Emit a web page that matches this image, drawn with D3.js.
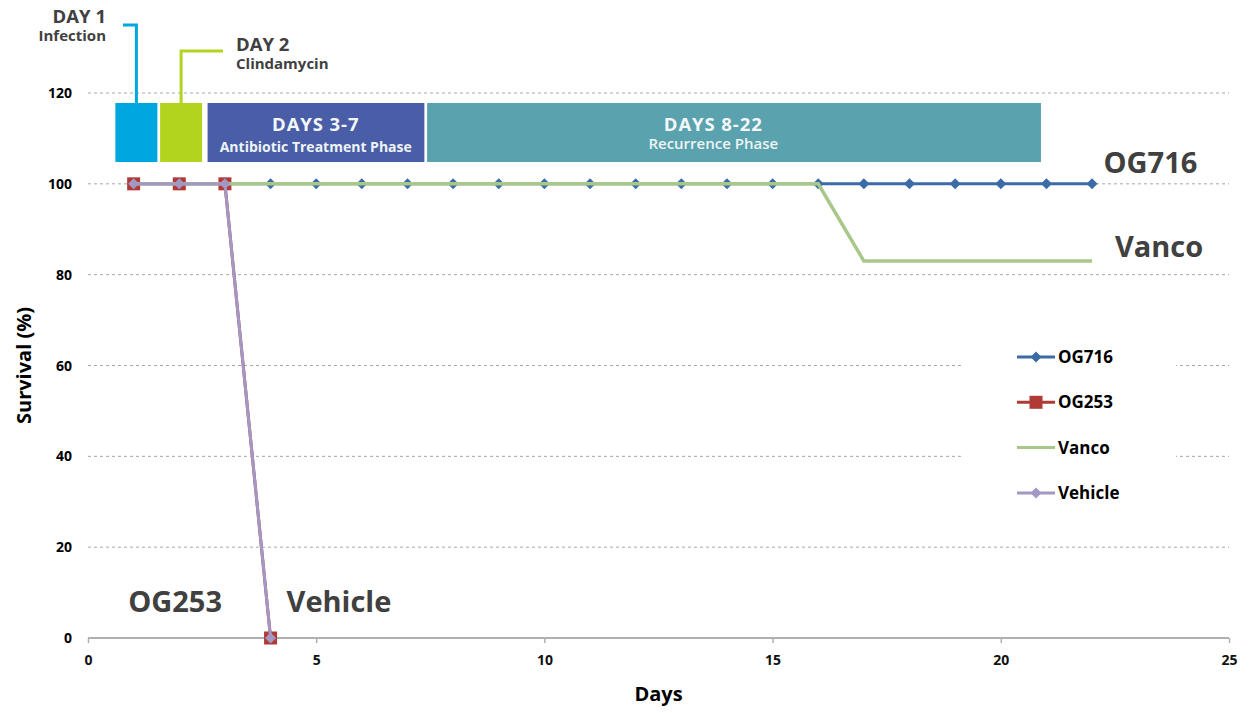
<!DOCTYPE html>
<html>
<head>
<meta charset="utf-8">
<script src="https://cdn.jsdelivr.net/npm/d3@7"></script>
<style>
	body { margin: 0; background: #fff; }
	svg { display: block; font-family: "Open Sans", "DejaVu Sans", sans-serif; }
</style>
</head>
<body>
<svg id="chart" width="1249" height="713"></svg>
<script>
// Survival data, days 1..22
const days = d3.range(1, 23)
const og716 = [100, 100, 100, 100, 100, 100, 100, 100, 100, 100, 100, 100, 100, 100, 100, 100, 100, 100, 100, 100, 100, 100]
const og253Days = [1, 2, 3, 4]
const og253 = [100, 100, 100, 0]
const vanco = [100, 100, 100, 100, 100, 100, 100, 100, 100, 100, 100, 100, 100, 100, 100, 100, 83, 83, 83, 83, 83, 83]
const vehicleDays = [1, 2, 3, 4]
const vehicle = [100, 100, 100, 0]

const xTicks = [0, 5, 10, 15, 20, 25]
const yTicks = [0, 20, 40, 60, 80, 100, 120]

// Study phases (day ranges drawn as boxes above the 100% line)
const phases = [
	{ start: 0.6, end: 1.52, title: "", sub: "", labelAt: 1 },
	{ start: 1.58, end: 2.5, title: "", sub: "", labelAt: 2 },
	{ start: 2.62, end: 7.37, title: "DAYS 3-7", sub: "Antibiotic Treatment Phase", labelAt: 4.99 },
	{ start: 7.43, end: 20.88, title: "DAYS 8-22", sub: "Recurrence Phase", labelAt: 13.7 },
]
const phaseColours = ["#00a6df", "#b2d41f", "#4a5ea7", "#5aa2ad"]

const series = [
	{ name: "OG716", x: days, y: og716, colour: "#3c6ca8", marker: "diamond", width: 3 },
	{ name: "OG253", x: og253Days, y: og253, colour: "#b03a36", marker: "square", width: 3 },
	{ name: "Vanco", x: days, y: vanco, colour: "#a8c88a", marker: null, width: 3.5 },
	{ name: "Vehicle", x: vehicleDays, y: vehicle, colour: "#a397c4", marker: "diamond", width: 3 },
]

const svg = d3.select("#chart")
const x = d3.scaleLinear().domain([0, 25]).range([88, 1229])
const y = d3.scaleLinear().domain([0, 120]).range([638, 93])

// Gridlines
svg.append("g")
	.selectAll("line")
	.data(yTicks.filter(d => d > 0))
	.join("line")
	.attr("x1", x(0))
	.attr("x2", x(25))
	.attr("y1", d => y(d))
	.attr("y2", d => y(d))
	.style("stroke", "#a8a8a8")
	.style("stroke-width", 1)
	.style("stroke-dasharray", "3,3")

// Y tick labels
svg.append("g")
	.selectAll("text")
	.data(yTicks)
	.join("text")
	.attr("x", 72)
	.attr("y", d => y(d) + 5)
	.attr("text-anchor", "end")
	.style("font-size", "14px")
	.style("font-weight", "bold")
	.text(d => d)

// X axis
let xAxis = svg.append("g")
	.attr("transform", `translate(0, ${y(0)})`)
	.call(d3.axisBottom(x).tickValues(xTicks).tickSize(5).tickPadding(12))
xAxis.select(".domain").style("stroke", "#b0b0b0").style("stroke-width", 2).attr("d", `M${x(0)},0H${x(25)}`)
xAxis.selectAll(".tick line").style("stroke", "#b0b0b0").style("stroke-width", 1.5)
xAxis.selectAll(".tick text")
	.style("font-size", "14px")
	.style("font-weight", "bold")
	.style("font-family", "'Open Sans', sans-serif")
	.attr("fill", "#111")

// Axis titles
svg.append("text")
	.attr("x", x(12.5))
	.attr("y", 701)
	.attr("text-anchor", "middle")
	.style("font-size", "20px")
	.style("font-weight", "bold")
	.text("Days")
svg.append("text")
	.attr("transform", `translate(31, ${y(60)}) rotate(-90)`)
	.attr("text-anchor", "middle")
	.style("font-size", "20px")
	.style("font-weight", "bold")
	.text("Survival (%)")

// Phase boxes
let phaseG = svg.append("g")
	.selectAll("g")
	.data(phases)
	.join("g")
phaseG.append("rect")
	.attr("x", d => x(d.start))
	.attr("width", d => x(d.end) - x(d.start))
	.attr("y", y(117.8))
	.attr("height", y(104.8) - y(117.8))
	.attr("fill", (d, i) => phaseColours[i])

// Title and subtitle as one text element with two lines
let phaseText = phaseG.filter(d => d.title)
	.append("text")
	.attr("text-anchor", "middle")
	.attr("fill", "#f4f7fb")
	.style("font-weight", "bold")
phaseText.append("tspan")
	.attr("x", d => x(d.labelAt))
	.attr("y", y(117.8) + 28)
	.style("font-size", "18.5px")
	.style("letter-spacing", "0.9px")
	.text(d => d.title)
phaseText.append("tspan")
	.attr("x", d => x(d.labelAt))
	.attr("y", d => y(117.8) + (d.labelAt < 7 ? 49 : 46))
	.attr("fill", "#eef4f6")
	.style("font-size", d => d.labelAt < 7 ? "14px" : "15px")
	.style("font-weight", d => d.labelAt < 7 ? "bold" : "600")
	.text(d => d.sub)

// Callouts for day 1 and day 2
const callouts = [
	{ top: 25, end: 123, title: "DAY 1", sub: "Infection", tx: 106, anchor: "end", ty: 23 },
	{ top: 51, end: 223, title: "DAY 2", sub: "Clindamycin", tx: 236, anchor: "start", ty: 51 },
]
callouts.forEach((c, i) => {
	let cx = (x(phases[i].start) + x(phases[i].end)) / 2
	svg.append("path")
		.attr("d", `M${cx},${y(117.8)}V${c.top}H${c.end}`)
		.attr("fill", "none")
		.style("stroke", phaseColours[i])
		.style("stroke-width", 3)
	let label = svg.append("text")
		.attr("text-anchor", c.anchor)
		.attr("fill", "#404040")
		.style("font-weight", "bold")
	label.append("tspan")
		.attr("x", c.tx)
		.attr("y", c.ty)
		.style("font-size", "18.5px")
		.text(c.title)
	label.append("tspan")
		.attr("x", c.tx)
		.attr("y", c.ty + 17.5)
		.style("font-size", "15px")
		.text(c.sub)
})

// Series lines
const line = d3.line()
	.x(d => x(d[0]))
	.y(d => y(d[1]))

const pointsOf = s => s.x.map((d, i) => [d, s.y[i]])

const diamond = r => `M0,${-r}L${r},0L0,${r}L${-r},0Z`

function drawMarkers(g, s, pts) {
	if (s.marker === "diamond") {
		g.selectAll("path")
			.data(pts)
			.join("path")
			.attr("d", diamond(5.5))
			.attr("transform", d => `translate(${x(d[0])}, ${y(d[1])})`)
			.attr("fill", s.colour)
	} else if (s.marker === "square") {
		g.selectAll("rect")
			.data(pts)
			.join("rect")
			.attr("x", d => x(d[0]) - 6.5)
			.attr("y", d => y(d[1]) - 6.5)
			.attr("width", 13)
			.attr("height", 13)
			.attr("fill", s.colour)
	}
}

series.forEach(s => {
	let g = svg.append("g")
	g.append("path")
		.datum(pointsOf(s))
		.attr("d", line)
		.attr("fill", "none")
		.style("stroke", s.colour)
		.style("stroke-width", s.width)
	drawMarkers(g.append("g"), s, pointsOf(s))
})

// Legend box (hides gridlines behind it)
svg.append("rect")
	.attr("x", 962)
	.attr("y", 330)
	.attr("width", 214)
	.attr("height", 190)
	.attr("fill", "#fff")

let legend = svg.append("g")
	.selectAll("g")
	.data(series)
	.join("g")
	.attr("transform", (d, i) => `translate(1017, ${357 + i * 45.3})`)
legend.append("line")
	.attr("x1", 0)
	.attr("x2", 38)
	.style("stroke", d => d.colour)
	.style("stroke-width", 3)
legend.each(function(s) {
	let g = d3.select(this).append("g")
	if (s.marker === "diamond")
		g.append("path").attr("d", diamond(5.5)).attr("transform", "translate(19, 0)").attr("fill", s.colour)
	else if (s.marker === "square")
		g.append("rect").attr("x", 12.5).attr("y", -6.5).attr("width", 13).attr("height", 13).attr("fill", s.colour)
})
legend.append("text")
	.attr("x", 41)
	.attr("y", 6)
	.style("font-size", "17px")
	.style("font-weight", "bold")
	.text(d => d.name)

// Direct labels
const directLabels = [
	{ text: "OG716", day: 22.25, value: 102.4 },
	{ text: "Vanco", day: 22.5, value: 83.8 },
	{ text: "OG253", day: 0.88, value: 5.7 },
	{ text: "Vehicle", day: 4.35, value: 5.7 },
]
svg.append("g")
	.selectAll("text")
	.data(directLabels)
	.join("text")
	.attr("x", d => x(d.day))
	.attr("y", d => y(d.value))
	.attr("fill", "#404040")
	.style("font-size", "29px")
	.style("font-weight", "bold")
	.text(d => d.text)
</script>
</body>
</html>
